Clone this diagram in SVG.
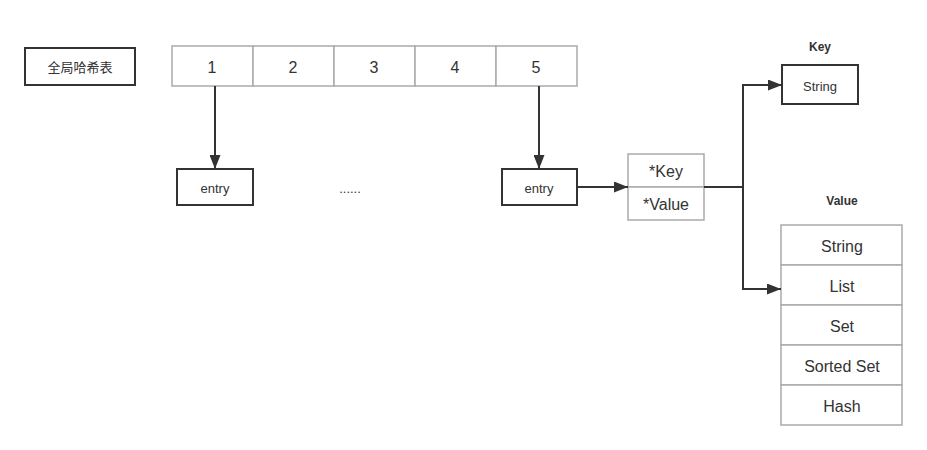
<svg xmlns="http://www.w3.org/2000/svg" width="927" height="450" viewBox="0 0 927 450">
<defs>
<marker id="ah" viewBox="0 0 14 11" refX="14" refY="5.5" markerWidth="14" markerHeight="11" markerUnits="userSpaceOnUse" orient="auto">
<path d="M0,0 L14,5.5 L0,11 Z" fill="#333"/>
</marker>
<style>
.dark{fill:#fff;stroke:#333;stroke-width:2}
.gray{fill:#fff;stroke:#aaa;stroke-width:1.5}
.t{font-family:"Liberation Sans","Noto Sans CJK SC",sans-serif;fill:#333;text-anchor:middle;dominant-baseline:central}
.big{font-size:16px}
.sm{font-size:13px}
.lbl{font-size:12px;font-weight:bold}
.conn{fill:none;stroke:#333;stroke-width:2}
</style>
</defs>
<rect width="927" height="450" fill="#fff"/>
<g id="global">
<rect class="dark" x="25" y="48" width="110" height="37"/>
<text class="t sm" x="80" y="67" font-family="Noto Sans CJK SC, sans-serif">全局哈希表</text>
</g>
<g id="table">
<rect class="gray" x="172" y="46" width="81" height="40"/>
<rect class="gray" x="253" y="46" width="81" height="40"/>
<rect class="gray" x="334" y="46" width="81" height="40"/>
<rect class="gray" x="415" y="46" width="81" height="40"/>
<rect class="gray" x="496" y="46" width="81" height="40"/>
<text class="t big" x="212" y="67">1</text>
<text class="t big" x="293" y="67">2</text>
<text class="t big" x="374" y="67">3</text>
<text class="t big" x="455" y="67">4</text>
<text class="t big" x="536" y="67">5</text>
</g>
<g id="entry1">
<rect class="dark" x="177" y="169" width="76" height="36"/>
<text class="t sm" x="215" y="188">entry</text>
</g>
<g id="dots">
<text class="t sm" x="350" y="188">......</text>
</g>
<g id="entry2">
<rect class="dark" x="502" y="169" width="75" height="36"/>
<text class="t sm" x="539" y="188">entry</text>
</g>
<g id="kv">
<rect class="gray" x="628" y="154" width="76" height="33"/>
<rect class="gray" x="628" y="187" width="76" height="33"/>
<text class="t big" x="666" y="171">*Key</text>
<text class="t big" x="666" y="204">*Value</text>
</g>
<g id="key">
<text class="t lbl" x="820" y="47">Key</text>
<rect class="dark" x="782" y="65" width="76" height="39"/>
<text class="t sm" x="820" y="86">String</text>
</g>
<g id="value">
<text class="t lbl" x="842" y="201">Value</text>
<rect class="gray" x="781" y="225" width="121" height="40"/>
<rect class="gray" x="781" y="265" width="121" height="40"/>
<rect class="gray" x="781" y="305" width="121" height="40"/>
<rect class="gray" x="781" y="345" width="121" height="40"/>
<rect class="gray" x="781" y="385" width="121" height="40"/>
<text class="t big" x="842" y="246">String</text>
<text class="t big" x="842" y="286">List</text>
<text class="t big" x="842" y="326">Set</text>
<text class="t big" x="842" y="366">Sorted Set</text>
<text class="t big" x="842" y="406">Hash</text>
</g>
<g id="connectors">
<path class="conn" d="M215,86 V169" marker-end="url(#ah)"/>
<path class="conn" d="M539,86 V169" marker-end="url(#ah)"/>
<path class="conn" d="M577,187 H628" marker-end="url(#ah)"/>
<path class="conn" d="M704,187 H743 V85 H782" marker-end="url(#ah)"/>
<path class="conn" d="M743,187 V289 H781" marker-end="url(#ah)"/>
</g>
</svg>
